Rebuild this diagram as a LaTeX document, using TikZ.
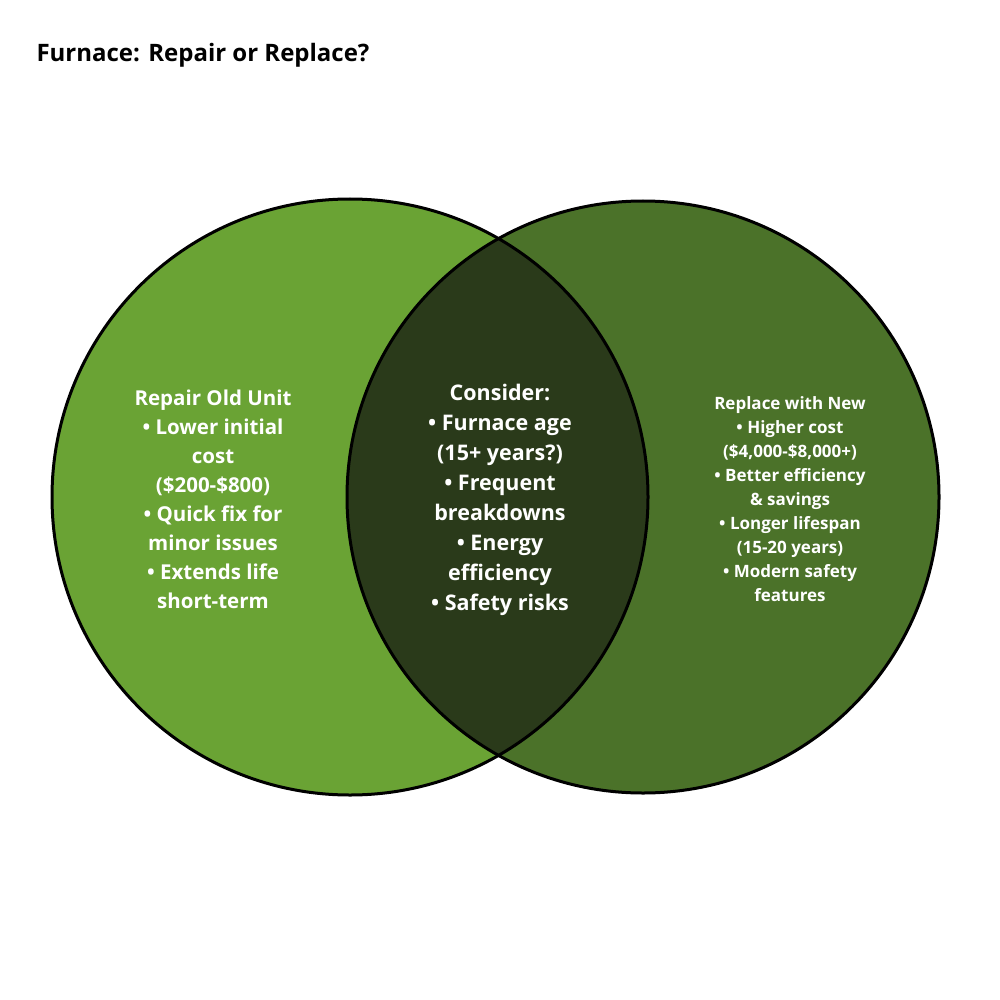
\documentclass[tikz,border=0pt]{standalone}
\usepackage{fontspec}
\setmainfont{Open Sans}
\definecolor{repairGreen}{HTML}{6AA334}
\definecolor{replaceGreen}{HTML}{4B7229}
\definecolor{bothGreen}{HTML}{2A3A1A}
\tikzset{
  venn/.style={draw=black, line width=3pt},
  lbl/.style={text=white, align=center, font=\bfseries},
}
\begin{document}
\begin{tikzpicture}[x=1pt,y=-1pt]
  \useasboundingbox (0,0) rectangle (1000,1000);
  \fill[white] (0,0) rectangle (1000,1000);
  \node[anchor=west, font=\fontsize{24}{28}\selectfont\bfseries] (title) at (33,55) {Furnace: Repair or Replace?};
  % circles
  \fill[repairGreen] (350,497) circle (298);
  \fill[replaceGreen] (643,497) circle (296);
  \begin{scope}
    \clip (350,497) circle (298);
    \fill[bothGreen] (643,497) circle (296);
  \end{scope}
  \draw[venn] (350,497) circle (298);
  \draw[venn] (643,497) circle (296);
  % texts
  \node[lbl, font=\fontsize{20.5}{29}\selectfont\bfseries] (repair) at (213,499)
    {Repair Old Unit\\• Lower initial\\cost\\(\$200-\$800)\\• Quick fix for\\minor issues\\• Extends life\\short-term};
  \node[lbl, font=\fontsize{21.5}{30}\selectfont\bfseries] (both) at (500,500)
    {Consider:\\• Furnace age\\(15+ years?)\\• Frequent\\breakdowns\\• Energy\\efficiency\\• Safety risks};
  \node[lbl, font=\fontsize{17}{24}\selectfont\bfseries] (replace) at (790,499)
    {Replace with New\\• Higher cost\\(\$4,000-\$8,000+)\\• Better efficiency\\\& savings\\• Longer lifespan\\(15-20 years)\\• Modern safety\\features};
\end{tikzpicture}
\end{document}
